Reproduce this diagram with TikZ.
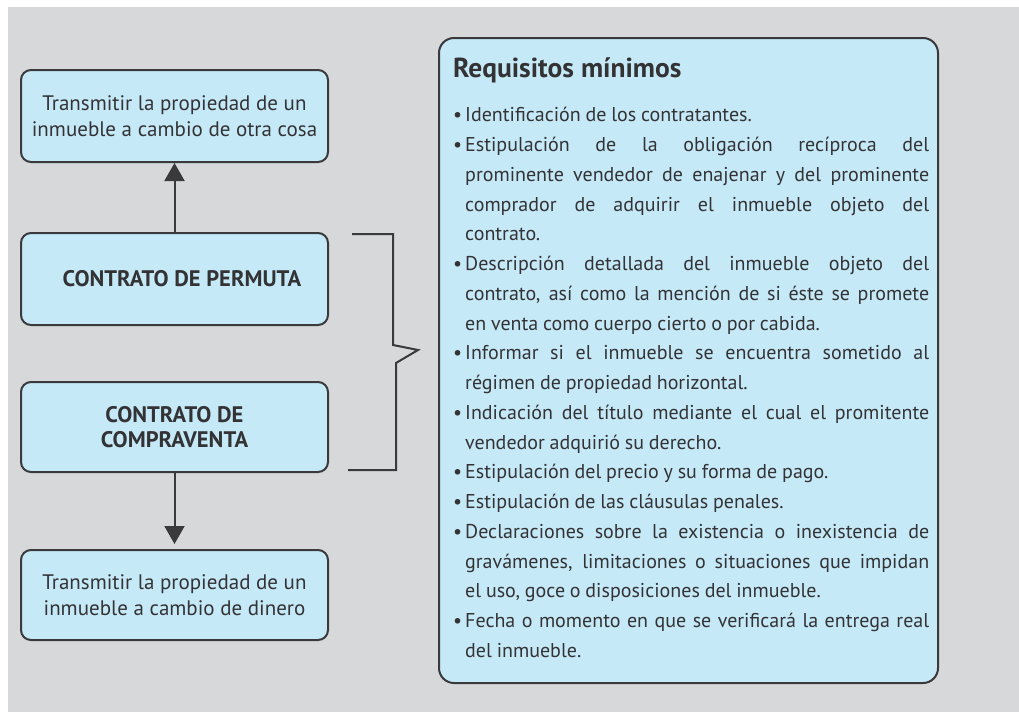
\documentclass[tikz,border=0pt]{standalone}
\usepackage{fontspec}
\setmainfont{PT Sans}
\usetikzlibrary{arrows.meta}
\definecolor{bggray}{HTML}{D7D8DA}
\definecolor{boxfill}{HTML}{C6E9F8}
\definecolor{edgecol}{HTML}{3A3A3C}
\definecolor{txtcol}{HTML}{333335}
\newcommand\reqitem{\par\hangindent=12pt\hangafter=1\noindent\makebox[12pt][l]{•}}
\begin{document}
\begin{tikzpicture}[x=1pt,y=-1pt,
  leftbox/.style={draw=edgecol, fill=boxfill, line width=2pt, rounded corners=10pt,
    minimum width=307pt, minimum height=92pt, inner sep=0pt, align=center, text=txtcol},
  plaintxt/.style={font=\fontsize{21}{26.5}\selectfont},
  boldtxt/.style={font=\fontsize{22.5}{25.5}\selectfont\bfseries},
  conn/.style={draw=edgecol, line width=2pt, -{Triangle[width=20pt,length=18pt]}},
  bracketline/.style={draw=edgecol, line width=2pt}
]
\useasboundingbox (0,0) rectangle (1019,712);
\fill[bggray] (8,7) rectangle (1019,712);

\node[leftbox, plaintxt] (b1) at (174.5,116) {Transmitir la propiedad de un\\inmueble a cambio de otra cosa};
\node[leftbox, boldtxt] (b2) at (174.5,279) {\hspace*{15pt}CONTRATO DE PERMUTA};
\node[leftbox, boldtxt, minimum height=90pt] (b3) at (174.5,427) {CONTRATO DE\\COMPRAVENTA};
\node[leftbox, plaintxt, minimum height=90pt] (b4) at (174.5,595) {Transmitir la propiedad de un\\inmueble a cambio de dinero};

\draw[conn] (b2.north) -- (b1.south);
\draw[conn, shorten >=5pt] (b3.south) -- (b4.north);

\coordinate (brA) at (352,234);
\coordinate (brB) at (348,470);
\coordinate (tip) at (418,350);
\draw[bracketline] (brA) -- (393,234) -- (393,345) -- (tip) -- (396,363) -- (396,470) -- (brB);

\node[draw=edgecol, fill=boxfill, line width=2pt, rounded corners=15pt,
  minimum width=499pt, minimum height=645pt, inner sep=0pt] (req) at (688.5,360.5) {};

\node[anchor=north west, text width=476pt, inner sep=0pt, text=txtcol, align=justify,
  font=\fontsize{20}{29.74}\selectfont] (reqtext) at (453,57) {%
  \tolerance=10000
  {\fontsize{27.5}{29.74}\selectfont\bfseries\rule{0pt}{20pt}Requisitos mínimos\par}
  \vspace{15pt}%
  \spaceskip=0.24em plus 1em minus 0.1em
  \reqitem Identificación de los contratantes.
  \reqitem Estipulación de la obligación recíproca del\linebreak prominente vendedor de enajenar y del prominente\linebreak comprador de adquirir el inmueble objeto del\linebreak contrato.
  \reqitem Descripción detallada del inmueble objeto del\linebreak contrato, así como la mención de si éste se promete\linebreak en venta como cuerpo cierto o por cabida.
  \reqitem Informar si el inmueble se encuentra sometido al\linebreak régimen de propiedad horizontal.
  \reqitem Indicación del título mediante el cual el promitente\linebreak vendedor adquirió su derecho.
  \reqitem Estipulación del precio y su forma de pago.
  \reqitem Estipulación de las cláusulas penales.
  \reqitem Declaraciones sobre la existencia o inexistencia de\linebreak gravámenes, limitaciones o situaciones que impidan\linebreak el uso, goce o disposiciones del inmueble.
  \reqitem Fecha o momento en que se verificará la entrega real\linebreak del inmueble.\par};
\end{tikzpicture}
\end{document}
